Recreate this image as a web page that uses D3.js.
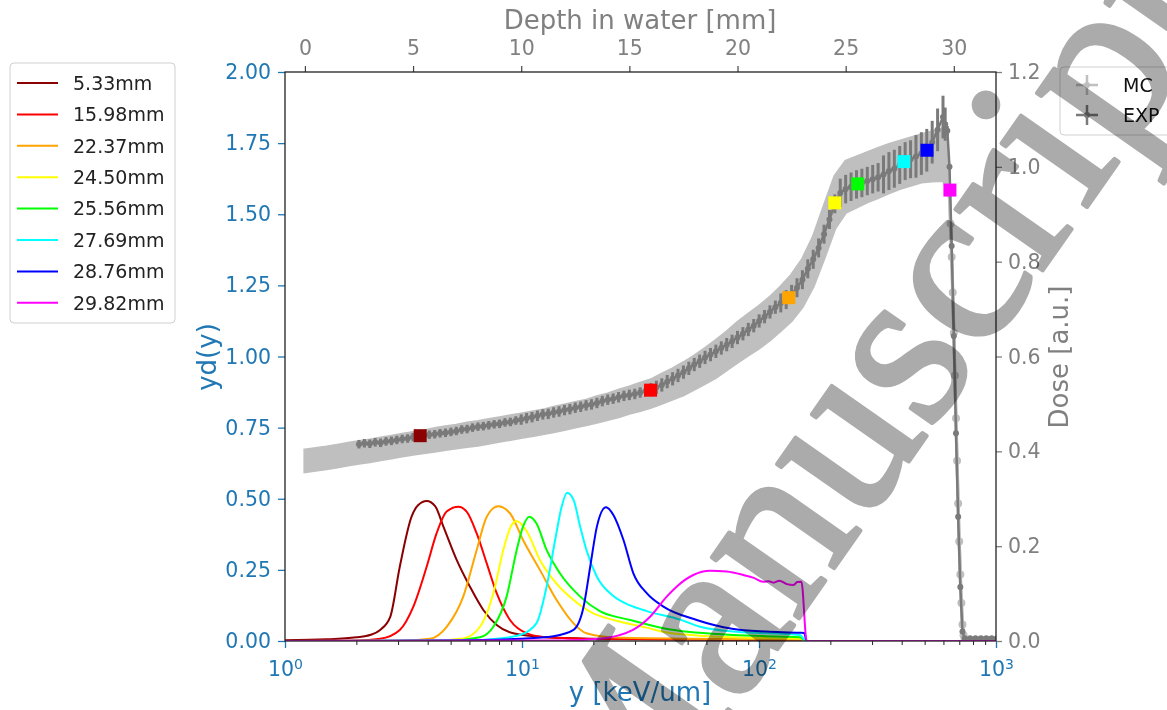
<!DOCTYPE html>
<html>
<head>
<meta charset="utf-8">
<script src="https://cdn.jsdelivr.net/npm/d3@7"></script>
<style>
body { margin: 0; background: #fff; }
text { font-family: "DejaVu Sans", sans-serif; }
</style>
</head>
<body>
<div id="chart"></div>
<script>
// ---- data ----
const depthTicks = [0, 5, 10, 15, 20, 25, 30];
const doseTicks = [0, 0.2, 0.4, 0.6, 0.8, 1.0, 1.2];
const ydTicks = [0, 0.25, 0.5, 0.75, 1.0, 1.25, 1.5, 1.75, 2.0];
const yMajor = [1, 10, 100, 1000];

const legendLabels = ["5.33mm", "15.98mm", "22.37mm", "24.50mm", "25.56mm", "27.69mm", "28.76mm", "29.82mm"];
const lineColors = ["#8b0000", "#ff0000", "#ffa500", "#ffff00", "#00ff00", "#00ffff", "#0000ff", "#ff00ff"];
const squareDepth = [5.33, 15.98, 22.37, 24.50, 25.56, 27.69, 28.76, 29.82];
const squareDose = [0.433, 0.529, 0.724, 0.924, 0.964, 1.011, 1.035, 0.951];

// microdosimetric spectra, [y keV/um, yd(y)]
const spec533 = [[1,0.003],[1.5,0.006],[2.0,0.013],[2.3,0.022],[2.52,0.039],[2.78,0.085],[3.05,0.261],[3.42,0.437],[3.65,0.478],[3.96,0.492],[4.3,0.474],[4.66,0.402],[5.3,0.285],[6.03,0.191],[6.87,0.109],[7.82,0.056],[9.19,0.027],[12.7,0.013],[20,0.008],[50,0.005],[100,0.004],[155,0.003],[160,0],[1000,0]];
const spec1598 = [[1,0],[2.0,0.002],[2.52,0.008],[3.05,0.039],[3.48,0.121],[3.96,0.261],[4.36,0.378],[4.81,0.455],[5.39,0.472],[5.84,0.455],[6.44,0.378],[7.1,0.273],[7.82,0.168],[8.9,0.074],[10.5,0.027],[12.7,0.013],[20,0.007],[50,0.005],[100,0.004],[155,0.003],[160,0],[1000,0]];
const spec2237 = [[1,0],[3,0.001],[4.09,0.008],[4.81,0.05],[5.65,0.156],[6.44,0.32],[7.1,0.437],[7.94,0.474],[8.9,0.449],[10.1,0.355],[11.9,0.25],[14.0,0.144],[16.5,0.062],[18.7,0.027],[25,0.012],[50,0.008],[100,0.006],[155,0.005],[160,0],[1000,0]];
const spec2450 = [[1,0],[4,0.001],[5.65,0.009],[6.65,0.05],[7.57,0.168],[8.34,0.32],[9.04,0.408],[9.5,0.422],[10.5,0.384],[11.9,0.285],[13.6,0.214],[16.5,0.144],[20.0,0.097],[24.3,0.074],[33.6,0.047],[40.8,0.03],[77.8,0.013],[150,0.008],[158,0],[1000,0]];
const spec2556 = [[1,0],[5,0.002],[6.65,0.013],[7.57,0.05],[8.61,0.156],[9.5,0.32],[10.1,0.402],[10.74,0.437],[11.5,0.414],[12.7,0.32],[14.45,0.238],[17.6,0.156],[21.3,0.105],[28.6,0.074],[39.5,0.045],[77.8,0.021],[149,0.013],[158,0],[1000,0]];
const spec2769 = [[1,0],[6,0.002],[7.82,0.008],[9.81,0.021],[11.5,0.062],[12.7,0.191],[13.8,0.355],[14.7,0.472],[15.5,0.521],[16.5,0.496],[17.6,0.402],[18.7,0.32],[20.7,0.226],[24.3,0.158],[28.6,0.125],[33.6,0.105],[46.5,0.075],[56.4,0.05],[77.8,0.033],[149,0.021],[158,0],[1000,0]];
const spec2876 = [[1,0],[5,0.002],[9.81,0.008],[13.6,0.017],[16.5,0.039],[18.2,0.121],[19.4,0.261],[20.7,0.402],[22.6,0.47],[24.3,0.443],[26.8,0.355],[29.5,0.238],[33.6,0.168],[39.5,0.121],[54.6,0.074],[77,0.043],[107.8,0.033],[149,0.029],[155,0.028],[159,0],[1000,0]];
const spec2982 = [[1,0],[15,0.002],[21.3,0.008],[29.4,0.039],[34.7,0.085],[40.8,0.156],[44.9,0.191],[52.8,0.232],[62.1,0.247],[73.1,0.244],[85.9,0.232],[95,0.222],[104,0.208],[110,0.21],[115,0.205],[122,0.212],[131,0.2],[140,0.197],[145,0.207],[151,0.208],[159,0],[1000,0]];
const spectra = [spec533, spec1598, spec2237, spec2450, spec2556, spec2769, spec2876, spec2982];

// depth-dose, [depth mm, dose, error]
const mcRows = [[0,0.38,0.023],[0.5,0.383,0.023],[1,0.386,0.023],[1.5,0.39,0.023],[2,0.394,0.023],[2.5,0.398,0.023],[3,0.401,0.023],[3.5,0.405,0.023],[4,0.409,0.023],[4.5,0.413,0.023],[5,0.417,0.023],[5.5,0.42,0.023],[6,0.424,0.024],[6.5,0.428,0.024],[7,0.431,0.024],[7.5,0.435,0.025],[8,0.438,0.025],[8.5,0.442,0.025],[9,0.446,0.025],[9.5,0.45,0.025],[10,0.454,0.025],[10.5,0.458,0.025],[11,0.462,0.025],[11.5,0.467,0.026],[12,0.472,0.026],[12.5,0.477,0.026],[13,0.482,0.026],[13.5,0.488,0.027],[14,0.494,0.027],[14.5,0.501,0.028],[15,0.508,0.028],[15.5,0.515,0.029],[16,0.522,0.029],[16.5,0.532,0.031],[17,0.542,0.032],[17.5,0.553,0.034],[18,0.566,0.035],[18.5,0.58,0.037],[19,0.595,0.039],[19.5,0.612,0.04],[20,0.63,0.042],[20.5,0.646,0.043],[21,0.662,0.044],[21.5,0.68,0.045],[22,0.701,0.046],[22.5,0.724,0.048],[23,0.755,0.05],[23.5,0.8,0.052],[24,0.862,0.055],[24.5,0.925,0.055],[25,0.958,0.054],[25.5,0.968,0.053],[26,0.978,0.052],[26.5,0.987,0.052],[27,0.996,0.051],[27.5,1.004,0.05],[28,1.011,0.05],[28.5,1.018,0.05],[29,1.022,0.052],[29.5,1.026,0.055],[29.7,1.0,0.045],[29.8,0.951,0.02],[29.85,0.88,0.01],[29.9,0.81,0.01],[29.95,0.735,0.01],[30,0.65,0.01],[30.05,0.56,0.01],[30.1,0.47,0.01],[30.15,0.38,0.01],[30.2,0.29,0.01],[30.25,0.21,0.01],[30.3,0.14,0.01],[30.35,0.08,0.008],[30.4,0.035,0.006],[30.45,0.012,0.004],[30.5,0.004,0.003],[30.6,0.002,0.002],[30.8,0.002,0.002],[31,0.002,0.002],[31.2,0.002,0.002],[31.4,0.002,0.002],[31.6,0.002,0.002],[31.8,0.002,0.002]];
const expRows = [[2.5,0.415,0.009],[2.75,0.417,0.009],[3,0.416,0.009],[3.25,0.419,0.009],[3.5,0.418,0.009],[3.75,0.421,0.009],[4,0.422,0.009],[4.25,0.424,0.009],[4.5,0.426,0.009],[4.75,0.427,0.009],[5,0.43,0.009],[5.25,0.432,0.009],[5.5,0.433,0.009],[5.75,0.435,0.009],[6,0.436,0.009],[6.25,0.438,0.009],[6.5,0.439,0.009],[6.75,0.441,0.009],[7,0.443,0.009],[7.25,0.446,0.009],[7.5,0.447,0.009],[7.75,0.45,0.009],[8,0.452,0.009],[8.25,0.453,0.009],[8.5,0.455,0.009],[8.75,0.457,0.009],[9,0.458,0.009],[9.25,0.461,0.009],[9.5,0.462,0.009],[9.75,0.465,0.009],[10,0.467,0.011],[10.25,0.47,0.011],[10.5,0.472,0.011],[10.75,0.475,0.011],[11,0.478,0.011],[11.25,0.479,0.011],[11.5,0.482,0.011],[11.75,0.484,0.011],[12,0.487,0.011],[12.25,0.489,0.011],[12.5,0.492,0.011],[12.75,0.494,0.011],[13,0.497,0.011],[13.25,0.499,0.011],[13.5,0.502,0.011],[13.75,0.506,0.011],[14,0.509,0.011],[14.25,0.511,0.011],[14.5,0.514,0.011],[14.75,0.517,0.011],[15,0.519,0.011],[15.25,0.521,0.011],[15.5,0.524,0.011],[15.75,0.527,0.011],[16,0.53,0.014],[16.25,0.535,0.014],[16.5,0.54,0.014],[16.75,0.547,0.014],[17,0.553,0.014],[17.25,0.56,0.014],[17.5,0.567,0.014],[17.75,0.575,0.014],[18,0.583,0.014],[18.25,0.59,0.014],[18.5,0.598,0.014],[18.75,0.604,0.014],[19,0.611,0.014],[19.25,0.618,0.014],[19.5,0.625,0.014],[19.75,0.632,0.014],[20,0.64,0.014],[20.25,0.648,0.014],[20.5,0.657,0.014],[20.75,0.665,0.014],[21,0.675,0.014],[21.25,0.684,0.014],[21.5,0.694,0.014],[21.75,0.704,0.014],[22,0.713,0.02],[22.25,0.72,0.02],[22.5,0.731,0.02],[22.75,0.745,0.02],[23,0.762,0.02],[23.25,0.785,0.02],[23.5,0.805,0.02],[23.75,0.829,0.02],[24,0.858,0.02],[24.25,0.889,0.02],[24.5,0.922,0.02],[24.75,0.945,0.03],[25,0.953,0.03],[25.25,0.958,0.03],[25.5,0.963,0.03],[25.75,0.966,0.03],[26,0.97,0.03],[26.25,0.974,0.03],[26.5,0.978,0.03],[26.75,0.984,0.04],[27,0.991,0.04],[27.25,0.996,0.04],[27.5,1.004,0.04],[27.75,1.012,0.04],[28,1.016,0.04],[28.25,1.022,0.045],[28.5,1.028,0.045],[28.75,1.035,0.045],[29,1.052,0.045],[29.25,1.078,0.045],[29.5,1.105,0.045],[29.6,1.09,0.035],[29.7,1.076,0.01],[29.8,1.0,0.006],[29.9,0.833,0.006],[30,0.643,0.006],[30.1,0.438,0.006],[30.2,0.262,0.006],[30.3,0.114,0.006],[30.4,0.02,0.004],[30.5,0.006,0.004],[30.75,0.006,0.004],[31,0.006,0.004],[31.25,0.006,0.004],[31.5,0.006,0.004],[31.75,0.006,0.004],[32,0.006,0.004]];

// ---- layout ----
const width = 1167;
const height = 710;
const pLeft = 285, pRight = 996, pTop = 72, pBottom = 641;
const blue = "#1f77b4";
const grey = "#808080";

const svg = d3.select("#chart").append("svg")
  .attr("width", width)
  .attr("height", height)
  .style("background", "#fff");

const x = d3.scaleLog().domain([1, 1000]).range([pLeft, pRight]);
const yL = d3.scaleLinear().domain([0, 2]).range([pBottom, pTop]);
const xTop = d3.scaleLinear().domain([-0.92, 31.95]).range([pLeft, pRight]);
const yR = d3.scaleLinear().domain([0, 1.2]).range([pBottom, pTop]);

const plot = svg.append("g");
plot.append("defs").append("clipPath").attr("id", "clip")
  .append("rect").attr("x", pLeft).attr("y", pTop).attr("width", pRight - pLeft).attr("height", pBottom - pTop);
const inner = plot.append("g").attr("clip-path", "url(#clip)");

// MC band (light grey errorbars drawn as band)
const mcArea = d3.area()
  .x(d => xTop(d[0]))
  .y0(d => yR(d[1] - d[2]))
  .y1(d => yR(d[1] + d[2]));
inner.append("path").datum(mcRows)
  .attr("fill", "#bfbfbf").attr("stroke", "#bfbfbf").attr("stroke-width", 3)
  .attr("d", mcArea);
inner.append("path").datum(mcRows)
  .attr("fill", "none").attr("stroke", "#bfbfbf").attr("stroke-width", 3)
  .attr("d", d3.line().x(d => xTop(d[0])).y(d => yR(d[1])));
inner.append("g").selectAll("circle").data(mcRows.filter(d => d[0] >= 29.7))
  .join("circle")
  .attr("cx", d => xTop(d[0])).attr("cy", d => yR(d[1])).attr("r", 4)
  .attr("fill", "#bfbfbf");

// EXP errorbars
inner.append("path").datum(expRows)
  .attr("fill", "none").attr("stroke", "#7a7a7a").attr("stroke-width", 2.5)
  .attr("d", d3.line().x(d => xTop(d[0])).y(d => yR(d[1])));
inner.append("g").selectAll("line").data(expRows)
  .join("line")
  .attr("x1", d => xTop(d[0])).attr("x2", d => xTop(d[0]))
  .attr("y1", d => yR(d[1] - d[2])).attr("y2", d => yR(d[1] + d[2]))
  .attr("stroke", "#7a7a7a").attr("stroke-width", 3);
inner.append("g").selectAll("circle").data(expRows)
  .join("circle")
  .attr("cx", d => xTop(d[0])).attr("cy", d => yR(d[1])).attr("r", 3)
  .attr("fill", "#7a7a7a");

// depth markers
inner.append("g").selectAll("rect").data(squareDepth)
  .join("rect")
  .attr("x", d => xTop(d) - 6.5)
  .attr("y", (d, i) => yR(squareDose[i]) - 6.5)
  .attr("width", 13).attr("height", 13)
  .attr("fill", (d, i) => lineColors[i]);

// spectra
const specLine = d3.line()
  .x(d => x(d[0]))
  .y(d => yL(d[1]))
  .curve(d3.curveMonotoneX);
inner.append("g").selectAll("path").data(spectra)
  .join("path")
  .attr("fill", "none")
  .attr("stroke", (d, i) => lineColors[i])
  .attr("stroke-width", 2)
  .attr("d", specLine);

// ---- axes ----
const leftAxis = svg.append("g").attr("transform", `translate(${pLeft},0)`)
  .call(d3.axisLeft(yL).tickValues(ydTicks).tickFormat(d3.format(".2f")).tickSize(7).tickPadding(7));
leftAxis.select(".domain").remove();
leftAxis.selectAll("line").attr("stroke", blue).attr("stroke-width", 1.3);
leftAxis.selectAll("text").attr("fill", blue).style("font-size", "20.5px");

const minorY = [];
yMajor.slice(0, 3).forEach(p => [2, 3, 4, 5, 6, 7, 8, 9].forEach(m => minorY.push(p * m)));
const minorAxis = svg.append("g").attr("transform", `translate(0,${pBottom})`)
  .call(d3.axisBottom(x).tickValues(minorY).tickFormat("").tickSize(4));
minorAxis.select(".domain").remove();
minorAxis.selectAll("line").attr("stroke", "#222").attr("stroke-width", 1);

const botAxis = svg.append("g").attr("transform", `translate(0,${pBottom})`)
  .call(d3.axisBottom(x).tickValues(yMajor).tickSize(7).tickPadding(13));
botAxis.select(".domain").remove();
botAxis.selectAll("line").attr("stroke", blue).attr("stroke-width", 1.3);
botAxis.selectAll("text").attr("fill", blue).style("font-size", "20.5px")
  .each(function (d) {
    const t = d3.select(this).text("");
    t.append("tspan").text("10");
    t.append("tspan").text(Math.round(Math.log10(d))).attr("dy", "-0.45em").style("font-size", "14px");
  });

const topAxis = svg.append("g").attr("transform", `translate(0,${pTop})`)
  .call(d3.axisTop(xTop).tickValues(depthTicks).tickSize(6).tickPadding(11));
topAxis.select(".domain").remove();
topAxis.selectAll("line").attr("stroke", "#444").attr("stroke-width", 1.2);
topAxis.selectAll("text").attr("fill", grey).style("font-size", "20.5px");

const rightAxis = svg.append("g").attr("transform", `translate(${pRight},0)`)
  .call(d3.axisRight(yR).tickValues(doseTicks).tickFormat(d3.format(".1f")).tickSize(6).tickPadding(6));
rightAxis.select(".domain").remove();
rightAxis.selectAll("line").attr("stroke", grey).attr("stroke-width", 1.3);
rightAxis.selectAll("text").attr("fill", grey).style("font-size", "20.5px");

// frame
svg.append("rect")
  .attr("x", pLeft).attr("y", pTop).attr("width", pRight - pLeft).attr("height", pBottom - pTop)
  .attr("fill", "none").attr("stroke", "#222").attr("stroke-width", 1.3);

// axis titles
svg.append("text").attr("x", (pLeft + pRight) / 2 - 0.5).attr("y", 29)
  .attr("text-anchor", "middle").attr("fill", grey).style("font-size", "26px")
  .text("Depth in water [mm]");
svg.append("text").attr("x", (pLeft + pRight) / 2 - 0.5).attr("y", 701)
  .attr("text-anchor", "middle").attr("fill", blue).style("font-size", "26px")
  .text("y [keV/um]");
svg.append("text").attr("transform", "translate(216,357) rotate(-90)")
  .attr("text-anchor", "middle").attr("fill", blue).style("font-size", "26px")
  .text("yd(y)");
svg.append("text").attr("transform", "translate(1068,357) rotate(-90)")
  .attr("text-anchor", "middle").attr("fill", grey).style("font-size", "26px")
  .text("Dose [a.u.]");

// legend, left
const leg = svg.append("g");
leg.append("rect").attr("x", 10).attr("y", 63).attr("width", 165).attr("height", 260).attr("rx", 4)
  .attr("fill", "#fff").attr("fill-opacity", 0.8).attr("stroke", "#d0d0d0");
legendLabels.forEach((lab, i) => {
  const yy = 83 + i * 31.4;
  leg.append("line").attr("x1", 17).attr("x2", 58).attr("y1", yy).attr("y2", yy)
    .attr("stroke", lineColors[i]).attr("stroke-width", 2);
  leg.append("text").attr("x", 73).attr("y", yy).attr("dy", "0.36em")
    .attr("fill", "#222").style("font-size", "19px").text(lab);
});

// legend, right
const leg2 = svg.append("g");
leg2.append("rect").attr("x", 1060).attr("y", 67).attr("width", 130).attr("height", 68).attr("rx", 4)
  .attr("fill", "#fff").attr("fill-opacity", 0.8).attr("stroke", "#d0d0d0");
[["MC", "#bfbfbf", 85], ["EXP", "#7a7a7a", 115]].forEach(([lab, col, yy]) => {
  leg2.append("line").attr("x1", 1076).attr("x2", 1098).attr("y1", yy).attr("y2", yy)
    .attr("stroke", col).attr("stroke-width", 2.5);
  leg2.append("line").attr("x1", 1087).attr("x2", 1087).attr("y1", yy - 10).attr("y2", yy + 10)
    .attr("stroke", col).attr("stroke-width", 2.5);
  leg2.append("circle").attr("cx", 1087).attr("cy", yy).attr("r", 3).attr("fill", col);
  leg2.append("text").attr("x", 1123).attr("y", yy).attr("dy", "0.36em")
    .attr("fill", "#111").style("font-size", "19px").text(lab);
});

// watermark
svg.append("text")
  .attr("transform", "translate(83,1641) rotate(-55)")
  .attr("fill", "#ababab")
  .attr("stroke", "#ababab")
  .attr("stroke-width", 4)
  .attr("stroke-linejoin", "round")
  .style("font-family", "'Liberation Serif', serif")
  .style("font-size", "232px")
  .style("mix-blend-mode", "multiply")
  .text("Accepted Manuscript");
</script>
</body>
</html>
